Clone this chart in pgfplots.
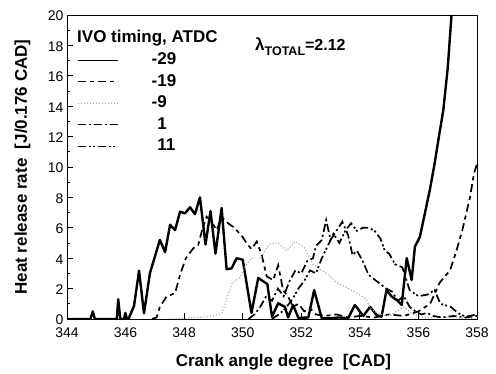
\documentclass[border=0pt]{standalone}
\usepackage{pgfplots}
\pgfplotsset{compat=1.18}
\usepackage{fontspec}
\setmainfont{Liberation Sans}
\begin{document}
\begin{tikzpicture}
\path[use as bounding box] (-67pt,-55pt) rectangle (429pt,319pt);
\begin{axis}[
  width=410pt, height=304pt, scale only axis,
  xmin=344, xmax=358, ymin=0, ymax=20,
  xtick={344,346,...,358}, ytick={0,2,...,20},
  minor y tick num=1,
  tick align=inside, xtick pos=bottom, ytick pos=left,
  major tick length=6pt, minor tick length=3.5pt,
  axis line style={line width=0.9pt},
  every tick/.style={black, line width=0.8pt},
  /pgf/number format/assume math mode=true,
  ticklabel style={font=\fontsize{14}{16}\selectfont},
  xticklabel style={yshift=-5.5pt},
  yticklabel style={yshift=-1pt},
  xlabel={\bfseries Crank angle degree\ \ [CAD]},
  ylabel={\bfseries Heat release rate\ \ [J/0.176 CAD]},
  label style={font=\fontsize{17}{20}\selectfont},
  xlabel style={at={(axis description cs:0.528,-0.1414)}, anchor=center},
  ylabel style={at={(axis description cs:-0.1085,0.5)}, anchor=center},
  legend style={draw=none, fill=none, inner sep=0pt, row sep=5.5pt,
    at={(axis description cs:0.0244,0.878)}, anchor=north west,
    font=\fontsize{17}{20}\selectfont\bfseries,
    nodes={inner sep=0pt, text height=12.5pt, text depth=3.5pt}},
  legend cell align=left,
  legend image code/.code={\draw[#1] (0pt,0pt) -- (40pt,0pt);},
  clip=true,
]
% -29 solid
\addplot[black, line width=2.4pt, line join=round, forget plot] coordinates {
(344,0) (344.8,0) (344.88,0.5) (344.95,0) (345.7,0) (345.75,1.3) (345.82,0)
(345.95,0) (345.99,0.4) (346.05,0) (346.1,0) (346.29,0.87) (346.46,3.18)
(346.63,0.37) (346.83,3.0) (347.0,4.1) (347.17,5.2) (347.35,4.4) (347.52,6.2)
(347.69,5.85) (347.86,7.06) (348.03,6.95) (348.2,7.35) (348.37,6.9) (348.54,8.0)
(348.73,4.9) (348.9,7.1) (349.07,4.3) (349.28,7.3) (349.45,3.27) (349.62,3.33)
(349.79,4.0) (350.0,3.9) (350.3,0.4) (350.53,2.7) (350.84,2.3) (351.0,0.15)
(351.21,1.03) (351.44,0.8) (351.55,0.1) (351.72,0.92) (351.9,0.07) (352.24,0.1)
(352.44,1.9) (352.7,0.05) (353.0,0.05) (353.3,0.1) (353.6,0.05) (353.83,0.92)
(354.12,0.2) (354.35,0.8) (354.57,0.26) (354.74,0.15) (354.91,1.9) (355.09,1.47)
(355.26,1.25) (355.43,0.92) (355.6,4.0) (355.77,2.57) (355.88,4.76) (356.05,5.4)
(356.22,6.95) (356.39,8.5) (356.55,10.2) (356.7,12.0) (356.85,13.75) (357.0,16.5)
(357.13,20)
};
% -19 dashed
\addplot[black, line width=1.7pt, dash pattern=on 8pt off 4pt on 4pt off 4pt, forget plot] coordinates {
(346.9,0) (347.06,0.1) (347.17,0.8) (347.4,1.47) (347.69,1.7) (347.86,2.9)
(348.06,4.0) (348.31,4.65) (348.48,4.87) (348.6,5.75) (348.77,6.73) (348.94,6.4)
(349.11,5.85) (349.28,6.7) (349.5,6.3) (349.68,6.05) (349.96,5.5) (350.13,5.0)
(350.3,4.6) (350.48,5.1) (350.65,4.2) (350.82,2.8) (351.04,2.56) (351.21,3.55)
(351.38,1.9) (351.55,1.47) (351.72,0.8) (351.9,1.0) (352.1,0.5) (352.3,0.7)
(352.5,0.3) (352.8,0.2) (353.2,0.3) (353.6,0.1) (354.0,0.2) (354.5,0.1)
(355.0,0.3) (355.5,0.2) (356.0,0.5) (356.4,1.0) (356.73,2.4) (357.08,3.2)
(357.3,4.5) (357.5,5.85) (357.76,8.0) (357.9,9.6) (358.0,10.2)
};
% -9 dotted gray
\addplot[gray!70, line width=1.1pt, dotted, forget plot] coordinates {
(347.5,0) (348.5,0.1) (349.0,0.2) (349.3,0.4) (349.5,1.6) (349.65,2.4)
(349.9,2.7) (350.1,3.5) (350.3,4.0) (350.6,4.0) (350.9,4.9) (351.2,5.0)
(351.5,4.5) (351.8,5.1) (352.1,4.7) (352.4,3.6) (352.7,3.2) (353.0,2.8)
(353.2,2.4) (353.5,2.1) (353.7,1.9) (354.0,1.6) (354.2,1.3) (354.4,0.6)
(354.7,0.3) (355.0,0.2) (355.5,0.8) (355.8,0.3) (356.2,0.1) (357,0.1) (358,0)
};
% 1 dash-dot
\addplot[black, line width=1.7pt, dash pattern=on 8pt off 3pt on 2pt off 3pt, forget plot] coordinates {
(350.2,0) (350.4,0.3) (350.6,0.8) (350.8,1.5) (351.0,1.2) (351.2,2.0)
(351.4,1.5) (351.6,2.5) (351.8,3.2) (352.0,3.0) (352.2,3.8) (352.4,4.0)
(352.5,4.8) (352.7,5.2) (352.85,6.5) (353.0,5.2) (353.2,5.8) (353.4,6.4)
(353.6,5.5) (353.75,4.2) (353.9,4.5) (354.1,3.8) (354.3,2.9) (354.5,2.6)
(354.7,2.3) (354.9,2.0) (355.1,1.8) (355.3,1.2) (355.5,1.5) (355.7,0.8)
(355.9,0.5) (356.1,0.3) (356.3,0.4) (356.5,0.2) (356.8,0.1) (357.2,0.2)
(357.6,0.1) (358,0.2)
};
% 11 dash-dot-dot
\addplot[black, line width=1.7pt, dash pattern=on 8pt off 3pt on 2pt off 2pt on 2pt off 3pt, forget plot] coordinates {
(351.0,0) (351.3,0.4) (351.5,0.8) (351.7,1.3) (351.9,2.0) (352.1,2.5)
(352.3,3.2) (352.5,3.0) (352.7,4.0) (352.9,4.8) (353.1,5.6) (353.3,5.0)
(353.5,5.8) (353.7,6.3) (353.9,5.8) (354.1,6.0) (354.3,6.0) (354.5,5.8)
(354.7,5.3) (354.85,4.5) (355.0,4.3) (355.2,3.6) (355.45,3.4) (355.7,1.9)
(356.0,1.5) (356.3,1.6) (356.55,1.9) (356.75,1.0) (357.1,0.8) (357.35,0.4)
(357.6,0.15) (358,0.3)
};
\addlegendimage{black, line width=1.5pt}
\addlegendentry{\hspace*{33pt}-29}
\addlegendimage{black, line width=1.3pt, dash pattern=on 8pt off 4pt on 4pt off 4pt}
\addlegendentry{\hspace*{33pt}-19}
\addlegendimage{gray!70, line width=1pt, dotted}
\addlegendentry{\hspace*{33pt}-9}
\addlegendimage{black, line width=1.3pt, dash pattern=on 8pt off 3pt on 2pt off 3pt}
\addlegendentry{\hspace*{33pt}\phantom{-}1}
\addlegendimage{black, line width=1.3pt, dash pattern=on 8pt off 3pt on 2pt off 2pt on 2pt off 3pt}
\addlegendentry{\hspace*{33pt}\phantom{-}11}
\node[anchor=west, inner sep=0pt, font=\fontsize{17}{20}\selectfont\bfseries]
  at (axis description cs:0.0244,0.924) {IVO timing, ATDC};
\node[anchor=west, inner sep=0pt, font=\bfseries]
  at (axis description cs:0.4585,0.895) {{\fontsize{17}{19}\selectfont λ}\raisebox{-5pt}{\fontsize{12.5}{14}\selectfont TOTAL}{\fontsize{16}{18}\selectfont =2.12}};
\end{axis}
\end{tikzpicture}
\end{document}
